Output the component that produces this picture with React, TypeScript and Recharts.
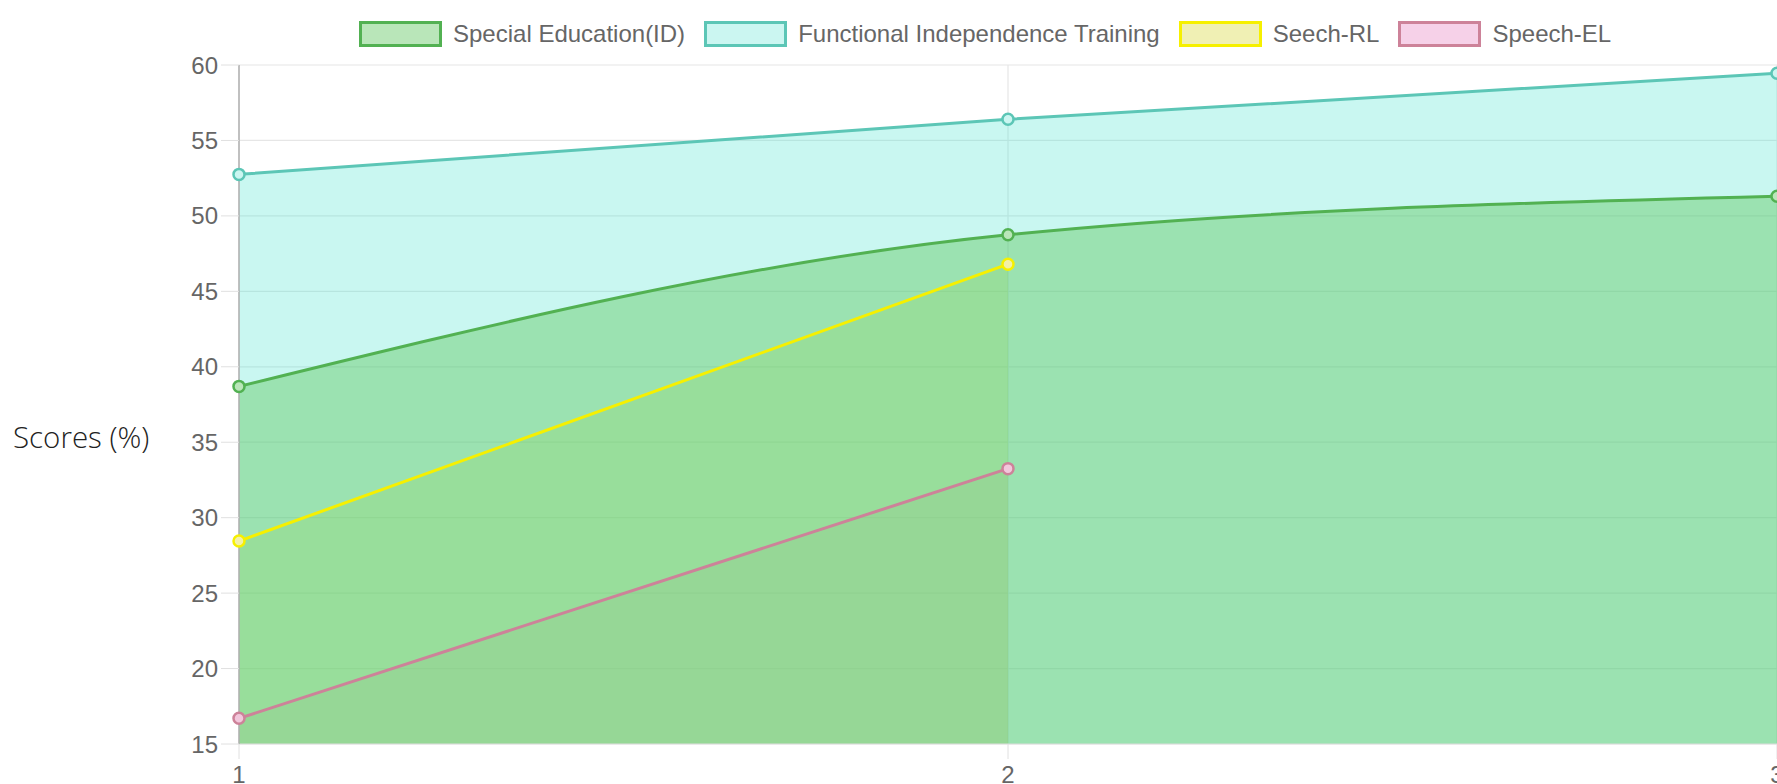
import React from "react";
import { Area, CartesianGrid, ComposedChart, Label, Line, XAxis, YAxis } from "recharts";

const sessions = [1, 2, 3];
const specialEducation = [38.7, 48.75, 51.3];
const functionalIndependence = [52.75, 56.4, 59.45];
const speechRL = [28.45, 46.8];
const speechEL = [16.7, 33.25];
const yTicks = [15, 20, 25, 30, 35, 40, 45, 50, 55, 60];

const W = 1777;
const H = 784;
const FONT = "'Liberation Sans', Arial, Helvetica, sans-serif";

const series = [
  { key: "se", name: "Special Education(ID)", stroke: "#52b152", fill: "rgba(100,200,100,0.45)", box: "#b9e6b9", dot: "#b9e6b9" },
  { key: "fit", name: "Functional Independence Training", stroke: "#5cc6b6", fill: "rgba(75,230,210,0.3)", box: "#cbf6f1", dot: "#cbf6f1" },
  { key: "rl", name: "Seech-RL", stroke: "#f6f000", fill: "rgba(225,225,60,0.3)", box: "#f0f0b4", dot: "#f3f0a8" },
  { key: "el", name: "Speech-EL", stroke: "#cd8299", fill: "rgba(230,130,180,0.2)", box: "#f6d1e8", dot: "#f2c7dc" },
];

const rows = sessions.map((x, i) => ({
  x,
  se: specialEducation[i] ?? null,
  fit: functionalIndependence[i] ?? null,
  rl: speechRL[i] ?? null,
  el: speechEL[i] ?? null,
}));

// fills first (last dataset at the bottom), strokes on top — like the original
const fillOrder = ["el", "rl", "fit", "se"];

function LegendRow() {
  return (
    <div
      style={{
        position: "absolute",
        left: 359,
        top: 20,
        display: "flex",
        alignItems: "center",
        fontFamily: FONT,
        fontSize: 24,
        color: "#666",
        whiteSpace: "nowrap",
      }}
    >
      {series.map((s) => (
        <div key={s.key} style={{ display: "flex", alignItems: "center", marginRight: 19 }}>
          <span
            style={{
              display: "inline-block",
              width: 83,
              height: 26,
              boxSizing: "border-box",
              border: `3px solid ${s.stroke}`,
              background: s.box,
              marginRight: 11,
            }}
          />
          <span>{s.name}</span>
        </div>
      ))}
    </div>
  );
}

export default function App() {
  return (
    <div style={{ position: "fixed", left: 0, top: 0, width: W, height: H, background: "#fff", overflow: "hidden" }}>
      <LegendRow />
      <ComposedChart width={W} height={H} data={rows} margin={{ top: 65, right: 0, bottom: 0, left: 0 }}>
        <CartesianGrid stroke="#e6e6e6" strokeWidth={1.2} />
        <XAxis
          type="number"
          dataKey="x"
          domain={[1, 3]}
          ticks={sessions}
          interval={0}
          height={40}
          stroke="#e0e0e0"
          tickSize={15}
          tickMargin={7}
          tick={{ fill: "#666", fontSize: 24, fontFamily: FONT }}
        />
        <YAxis
          type="number"
          domain={[15, 60]}
          ticks={yTicks}
          interval={0}
          width={239}
          axisLine={{ stroke: "#b0b0b0", strokeWidth: 1.5 }}
          tickLine={{ stroke: "#e0e0e0" }}
          tickSize={18}
          tickMargin={3}
          tick={{ fill: "#666", fontSize: 24, fontFamily: FONT }}
        >
          <Label
            content={() => (
              <text x={13} y={448} fill="#222" fontSize={29.5} fontWeight={300} fontFamily="'Open Sans', 'Noto Sans', sans-serif">
                Scores (%)
              </text>
            )}
          />
        </YAxis>
        {fillOrder.map((k) => {
          const s = series.find((d) => d.key === k)!;
          return (
            <Area
              key={`a-${k}`}
              type="monotone"
              dataKey={k}
              stroke="none"
              fill={s.fill}
              fillOpacity={1}
              dot={false}
              activeDot={false}
              isAnimationActive={false}
            />
          );
        })}
        {fillOrder.map((k) => {
          const s = series.find((d) => d.key === k)!;
          return (
            <Line
              key={`l-${k}`}
              type="monotone"
              dataKey={k}
              name={s.name}
              stroke={s.stroke}
              strokeWidth={3}
              dot={{ r: 5.5, fill: s.dot, stroke: s.stroke, strokeWidth: 2.5 }}
              activeDot={false}
              isAnimationActive={false}
            />
          );
        })}
      </ComposedChart>
    </div>
  );
}
